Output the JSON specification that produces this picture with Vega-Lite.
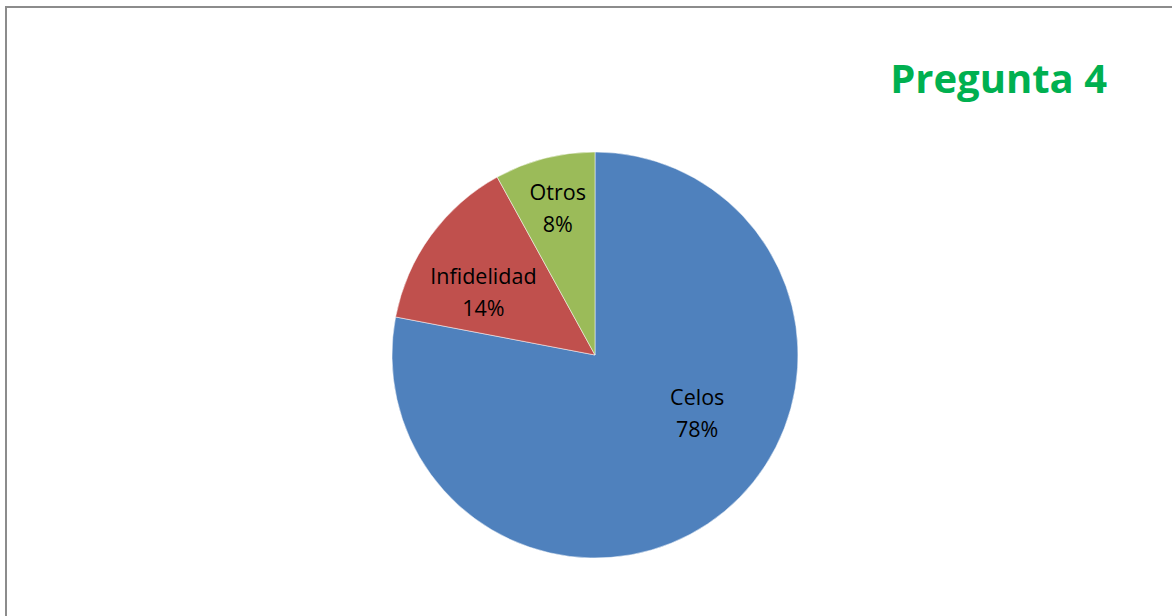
{
  "$schema": "https://vega.github.io/schema/vega-lite/v6.json",
  "autosize": {"type": "none"},
  "width": 1178,
  "height": 696,
  "padding": {"left": 6, "top": 7, "right": 0, "bottom": 0},
  "background": "white",
  "view": {"stroke": "#8c8c8c", "strokeWidth": 2},
  "title": {
    "text": "Pregunta 4",
    "anchor": "end",
    "font": "Open Sans",
    "fontSize": 40,
    "fontWeight": "bold",
    "color": "#00B050",
    "dx": -77,
    "dy": 98
  },
  "data": {
    "values": [
      {"motivo": "Celos", "pct": 78, "orden": 1},
      {"motivo": "Infidelidad", "pct": 14, "orden": 2},
      {"motivo": "Otros", "pct": 8, "orden": 3}
    ]
  },
  "transform": [
    {"stack": "pct", "groupby": [], "sort": [{"field": "orden", "order": "ascending"}], "as": ["p0", "p1"]},
    {"calculate": "(datum.p0 + datum.p1) / 2", "as": "pmid"},
    {"calculate": "datum.motivo + '\\n' + datum.pct + '%'", "as": "etiqueta"}
  ],
  "resolve": {"scale": {"theta": "shared"}},
  "layer": [
    {
      "mark": {"type": "arc", "outerRadius": 203, "stroke": "white", "strokeWidth": 0.5},
      "encoding": {
        "theta": {"field": "p0", "type": "quantitative", "scale": {"domain": [0, 100]}},
        "theta2": {"field": "p1"},
        "color": {
          "field": "motivo",
          "type": "nominal",
          "scale": {"domain": ["Celos", "Infidelidad", "Otros"], "range": ["#4F81BD", "#C0504D", "#9BBB59"]},
          "legend": null
        }
      }
    },
    {
      "transform": [{"filter": "datum.motivo === 'Celos'"}],
      "mark": {"type": "text", "radius": 118, "dx": 27, "dy": -47, "font": "Open Sans", "fontSize": 21.5, "lineBreak": "\n", "lineHeight": 32, "color": "#000000", "align": "center", "baseline": "middle"},
      "encoding": {
        "theta": {"field": "pmid", "type": "quantitative", "scale": {"domain": [0, 100]}},
        "text": {"field": "etiqueta", "type": "nominal"}
      }
    },
    {
      "transform": [{"filter": "datum.motivo === 'Infidelidad'"}],
      "mark": {"type": "text", "radius": 128, "dx": -8, "dy": -2, "font": "Open Sans", "fontSize": 21.5, "lineBreak": "\n", "lineHeight": 32, "color": "#000000", "align": "center", "baseline": "middle"},
      "encoding": {
        "theta": {"field": "pmid", "type": "quantitative", "scale": {"domain": [0, 100]}},
        "text": {"field": "etiqueta", "type": "nominal"}
      }
    },
    {
      "transform": [{"filter": "datum.motivo === 'Otros'"}],
      "mark": {"type": "text", "radius": 150, "dy": -16, "font": "Open Sans", "fontSize": 21.5, "lineBreak": "\n", "lineHeight": 32, "color": "#000000", "align": "center", "baseline": "middle"},
      "encoding": {
        "theta": {"field": "pmid", "type": "quantitative", "scale": {"domain": [0, 100]}},
        "text": {"field": "etiqueta", "type": "nominal"}
      }
    }
  ]
}
